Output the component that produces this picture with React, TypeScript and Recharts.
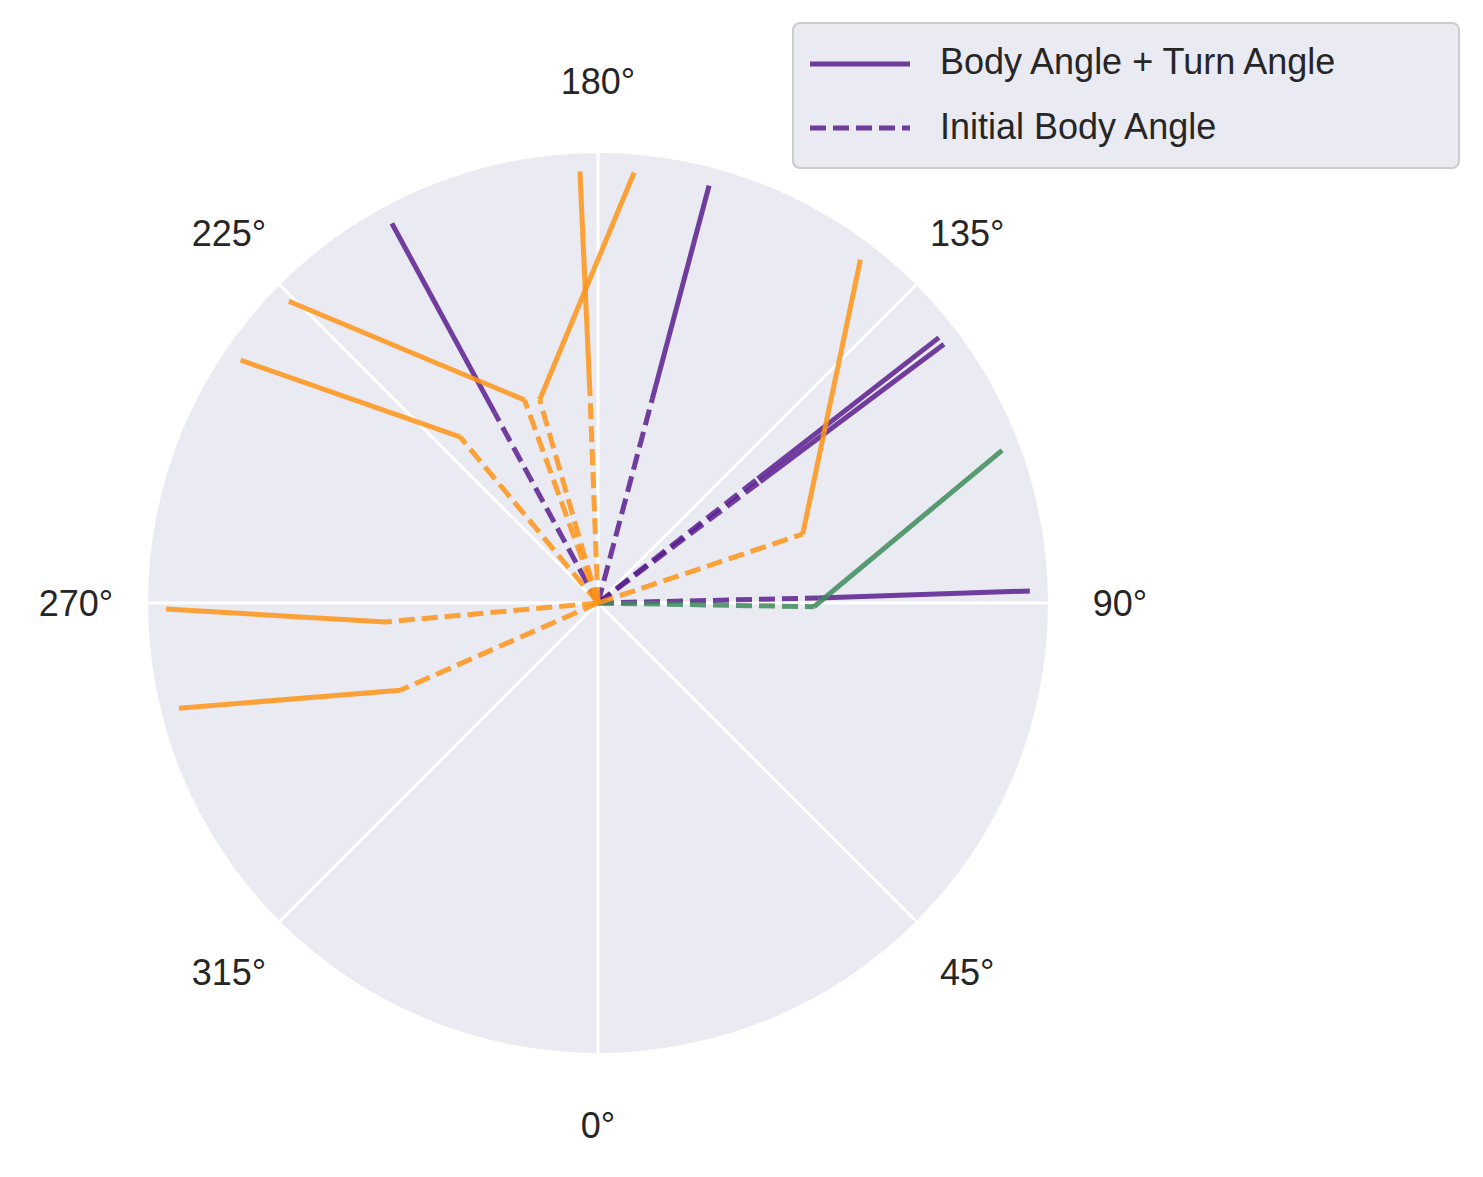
import { ScatterChart, Scatter, XAxis, YAxis } from "recharts";

// polar angle ticks (deg, 0 at bottom, counterclockwise via right)
const tickAngles = [0, 45, 90, 135, 180, 225, 270, 315];

// each trace: initial body angle point (knot) and final point, as [angle deg, radius]
const purpleKnots = [[165.1, 0.47], [208.5, 0.48], [127.9, 0.45], [126.8, 0.45], [91.3, 0.49]];
const purpleEnds = [[165.1, 0.96], [208.5, 0.96], [127.9, 0.96], [126.8, 0.96], [91.6, 0.96]];
const orangeKnots = [[182.2, 0.47], [196, 0.47], [199.9, 0.48], [219.7, 0.48], [108.6, 0.48], [275.1, 0.475], [293.8, 0.48]];
const orangeEnds = [[182.4, 0.96], [175.2, 0.96], [225.7, 0.96], [235.8, 0.96], [142.6, 0.96], [270.8, 0.96], [284.1, 0.96]];
const greenKnots = [[89, 0.48]];
const greenEnds = [[110.7, 0.96]];

const W = 1483;
const H = 1177;
const CX = 598;
const CY = 603;
const R = 450;

const pt = (deg: number, r: number) => {
  const t = (deg * Math.PI) / 180;
  return { x: r * Math.sin(t), y: -r * Math.cos(t) };
};

const none = () => null;
const font = "'Liberation Sans', Arial, sans-serif";

const traces = [
  { knots: purpleKnots, ends: purpleEnds, color: "#5b1f8f" },
  { knots: greenKnots, ends: greenEnds, color: "#3d8c5c" },
  { knots: orangeKnots, ends: orangeEnds, color: "#ff9417" },
];

const TickLabel = (props: any) => (
  <text x={props.cx} y={props.cy} textAnchor="middle" dominantBaseline="central"
    fontSize={36} fill="#262626" fontFamily={font}>
    {props.payload.label}
  </text>
);

export default function App() {
  const origin = { x: 0, y: 0 };
  return (
    <div style={{ position: "absolute", left: 0, top: 0, width: W, height: H, background: "#fff" }}>
      <div style={{
        position: "absolute", left: CX - R, top: CY - R, width: 2 * R, height: 2 * R,
        borderRadius: "50%", background: "#eaeaf2",
      }} />
      <div style={{ position: "absolute", left: 0, top: 0 }}>
        <ScatterChart width={W} height={H} margin={{ top: 0, right: 0, bottom: 0, left: 0 }}>
          <XAxis type="number" dataKey="x" hide domain={[-CX / R, (W - CX) / R]} allowDataOverflow />
          <YAxis type="number" dataKey="y" hide domain={[-(H - CY) / R, CY / R]} allowDataOverflow />
          {tickAngles.map((a) => (
            <Scatter key={"g" + a} data={[origin, pt(a, 1)]} line={{ stroke: "#fff", strokeWidth: 3 }}
              shape={none} isAnimationActive={false} />
          ))}
          {traces.flatMap((tr, ti) =>
            tr.knots.map((k, i) => {
              const kp = pt(k[0], k[1]);
              const ep = pt(tr.ends[i][0], tr.ends[i][1]);
              return [
                <Scatter key={`d${ti}-${i}`} data={[origin, kp]} shape={none} isAnimationActive={false}
                  line={{ stroke: tr.color, strokeWidth: 5, strokeDasharray: "16 7", strokeOpacity: 0.85 }} />,
                <Scatter key={`s${ti}-${i}`} data={[kp, ep]} shape={none} isAnimationActive={false}
                  line={{ stroke: tr.color, strokeWidth: 5, strokeOpacity: 0.85 }} />,
              ];
            })
          )}
          <Scatter data={tickAngles.map((a) => ({ ...pt(a, 1.16), label: `${a}°` }))}
            shape={TickLabel} isAnimationActive={false} />
        </ScatterChart>
      </div>
      <div style={{
        position: "absolute", left: 792, top: 22, width: 668, height: 147, boxSizing: "border-box",
        background: "#eaeaf2", border: "2px solid #cccccc", borderRadius: 8, fontFamily: font,
        fontSize: 36, color: "#262626",
      }}>
        <svg width={120} height={144} style={{ position: "absolute", left: 14, top: 0 }}>
          <line x1={2} x2={102} y1={40} y2={40} stroke="#5b1f8f" strokeOpacity={0.85} strokeWidth={5} />
          <line x1={2} x2={102} y1={104} y2={104} stroke="#5b1f8f" strokeOpacity={0.85} strokeWidth={5} strokeDasharray="16 7" />
        </svg>
        <div style={{ position: "absolute", left: 146, top: 17 }}>Body Angle + Turn Angle</div>
        <div style={{ position: "absolute", left: 146, top: 82 }}>Initial Body Angle</div>
      </div>
    </div>
  );
}
